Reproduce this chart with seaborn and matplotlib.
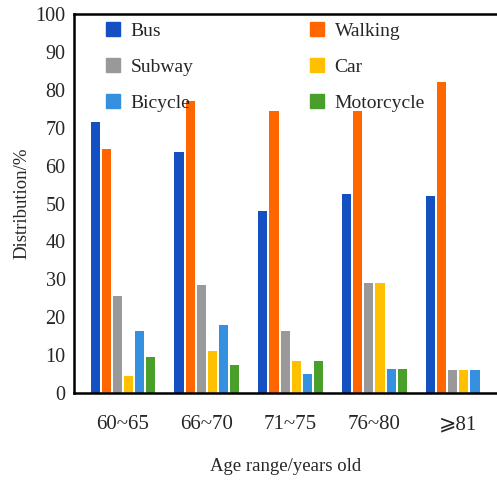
import matplotlib
matplotlib.use("Agg")
import matplotlib.pyplot as plt
import matplotlib.patches as mpatches
import numpy as np
import pandas as pd
import seaborn as sns

# Data.
age_groups = ["60~65", "66~70", "71~75", "76~80", "\u2a7e81"]
modes = ["Bus", "Walking", "Subway", "Car", "Bicycle", "Motorcycle"]
bus = [71.5, 63.5, 48, 52.5, 52]
walking = [64.5, 77, 74.5, 74.5, 82]
subway = [25.5, 28.5, 16.5, 29, 6]
car = [4.5, 11, 8.5, 29, 6]
bicycle = [16.5, 18, 5, 6.5, 6]
motorcycle = [9.5, 7.5, 8.5, 6.5, np.nan]

colors = ["#1450C2", "#FF6600", "#999999", "#FFC000", "#3590E0", "#4A9E2A"]

values = [bus, walking, subway, car, bicycle, motorcycle]
rows = []
for mode, vals in zip(modes, values):
    for age, v in zip(age_groups, vals):
        rows.append({"age": age, "mode": mode, "value": v})
df = pd.DataFrame(rows)

sns.set_style("white")
plt.rcParams["font.family"] = ["Liberation Serif", "DejaVu Serif", "DejaVu Sans", "Noto Sans CJK SC"]

fig = plt.figure(figsize=(4.97, 4.83), dpi=100)
ax = fig.add_axes([0.149, 0.186, 0.851, 0.785])

sns.barplot(
    data=df,
    x="age",
    y="value",
    hue="mode",
    hue_order=modes,
    order=age_groups,
    palette=colors,
    saturation=1,
    width=0.79,
    gap=0.18,
    linewidth=0,
    errorbar=None,
    legend=False,
    ax=ax,
)

ax.set_ylim(0, 100)
ax.set_xlim(-0.58, 4.46)
ax.set_yticks(range(0, 101, 10))
ax.tick_params(axis="y", direction="in", length=7, width=1.5, labelsize=14.5, pad=6)
ax.tick_params(axis="x", length=0, labelsize=15, pad=16)
ax.set_xlabel("Age range/years old", fontsize=13.5, labelpad=17)
ax.set_ylabel("Distribution/%", fontsize=13.5, labelpad=4)

for side in ["left", "bottom", "top"]:
    ax.spines[side].set_linewidth(1.8)
    ax.spines[side].set_color("black")
ax.spines["right"].set_visible(False)

# Legend in row-major order: Bus, Walking / Subway, Car / Bicycle, Motorcycle
leg_order = ["Bus", "Subway", "Bicycle", "Walking", "Car", "Motorcycle"]
handles = [mpatches.Patch(color=colors[modes.index(m)], label=m) for m in leg_order]
ax.legend(
    handles=handles,
    ncol=2,
    loc="upper left",
    bbox_to_anchor=(0.035, 1.025),
    frameon=False,
    fontsize=14,
    handlelength=0.7,
    handleheight=0.7,
    handletextpad=0.55,
    columnspacing=6.0,
    labelspacing=0.95,
)

plt.savefig("out.png", dpi=100)
